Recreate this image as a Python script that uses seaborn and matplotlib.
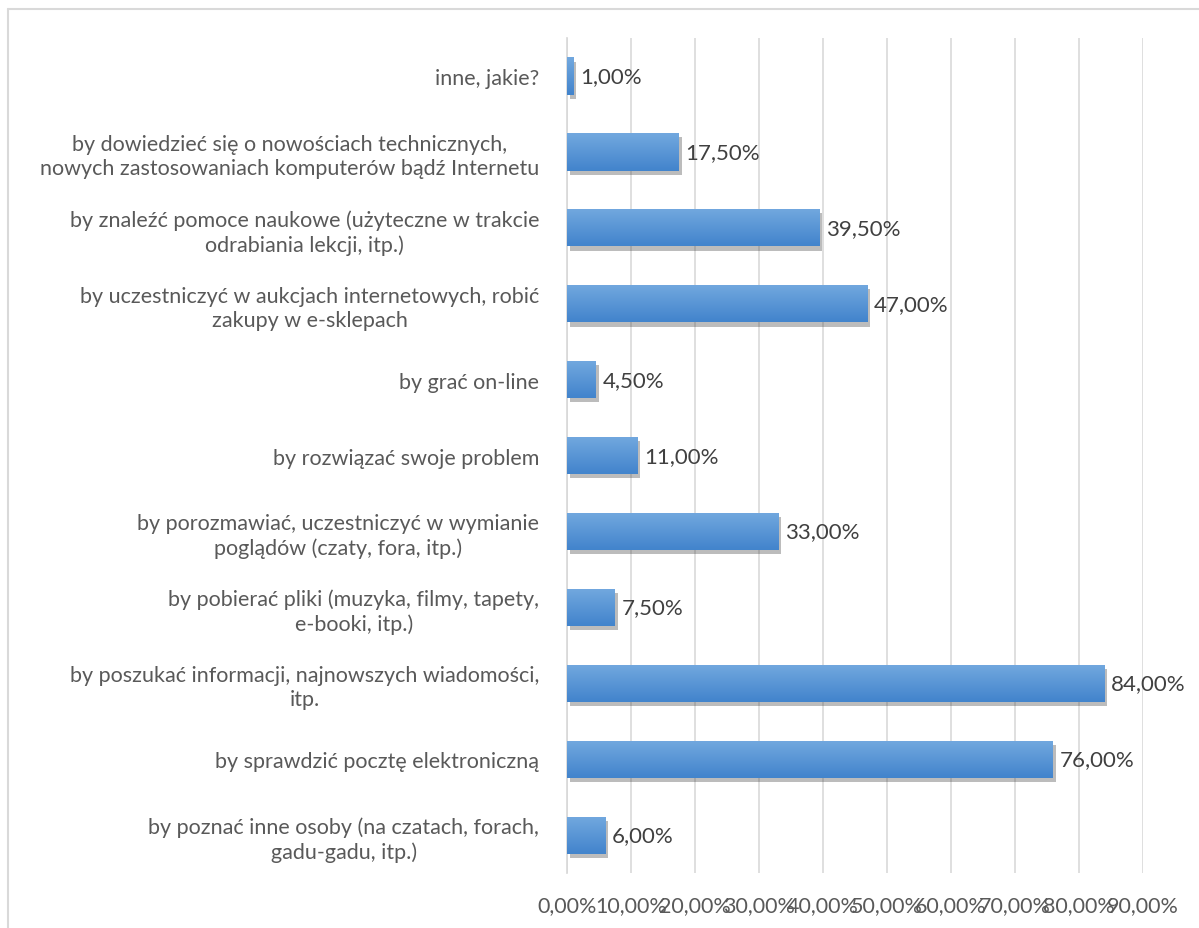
import numpy as np
import pandas as pd
import seaborn as sns
import matplotlib.pyplot as plt
import matplotlib.patheffects as pe
from matplotlib.colors import LinearSegmentedColormap
from matplotlib.ticker import FuncFormatter, MultipleLocator

# --- data ---
categories = [
    "inne, jakie?",
    "by dowiedzieć się o nowościach technicznych,\nnowych zastosowaniach komputerów bądź Internetu",
    "by znaleźć pomoce naukowe (użyteczne w trakcie\nodrabiania lekcji, itp.)",
    "by uczestniczyć w aukcjach internetowych, robić\nzakupy w e-sklepach",
    "by grać on-line",
    "by rozwiązać swoje problem",
    "by porozmawiać, uczestniczyć w wymianie\npoglądów (czaty, fora, itp.)",
    "by pobierać pliki (muzyka, filmy, tapety,\ne-booki, itp.)",
    "by poszukać informacji, najnowszych wiadomości,\nitp.",
    "by sprawdzić pocztę elektroniczną",
    "by poznać inne osoby (na czatach, forach,\ngadu-gadu, itp.)",
]
shares = [1.0, 17.5, 39.5, 47.0, 4.5, 11.0, 33.0, 7.5, 84.0, 76.0, 6.0]

df = pd.DataFrame({"cel": categories, "udzial": shares})

sns.set_theme(style="white")
plt.rcParams['font.family'] = ['Lato', 'DejaVu Sans']
text_col = "#595959"

fig = plt.figure(figsize=(11.99, 9.29), dpi=100)
ax = fig.add_axes([0.473, 0.059, 0.480, 0.899])

sns.barplot(data=df, x="udzial", y="cel", orient="h", color="#5b9bd5",
            width=0.49, ax=ax, zorder=2)

# gradient fill + soft shadow, Excel style
grad = LinearSegmentedColormap.from_list("g", ["#72a8df", "#4284cc"])
for p in ax.patches:
    p.set_edgecolor("none")
    p.set_path_effects([pe.SimplePatchShadow(offset=(2, -3), shadow_rgbFace="#404040", alpha=0.35),
                        pe.Normal()])
    x0, y0, w, h = p.get_x(), p.get_y(), p.get_width(), p.get_height()
    im = ax.imshow(np.linspace(0, 1, 50).reshape(-1, 1), cmap=grad, aspect="auto",
                   extent=(x0, x0 + w, y0 + h, y0), origin="upper", zorder=3,
                   interpolation="bilinear")
    im.set_clip_path(p)

ax.set_xlim(0, 90)
ax.set_ylim(len(categories) - 0.5, -0.5)
ax.xaxis.set_major_locator(MultipleLocator(10))
ax.xaxis.set_major_formatter(FuncFormatter(lambda v, _: f"{v:.2f}%".replace(".", ",")))
ax.grid(axis="x", color="#d9d9d9", linewidth=1.2, zorder=0)
ax.set_axisbelow(True)
for s in ["top", "right", "bottom"]:
    ax.spines[s].set_visible(False)
ax.spines["left"].set_color("#d9d9d9")
ax.tick_params(axis="x", labelsize=15.5, colors=text_col, pad=16, length=0)
ax.tick_params(axis="y", labelsize=15.5, colors=text_col, pad=20, length=0)
for t in ax.get_yticklabels():
    t.set_multialignment("center")
    t.set_linespacing(1.25)
ax.set_xlabel("")
ax.set_ylabel("")

for i, v in enumerate(shares):
    ax.text(v + 1.0, i, f"{v:.2f}%".replace(".", ","), va="center", ha="left",
            fontsize=16, color="#404040")

# outer chart border
fig.add_artist(plt.Line2D([8 / 1199, 8 / 1199], [0, 1 - 10 / 929], color="#d9d9d9", lw=1.5))
fig.add_artist(plt.Line2D([8 / 1199, 1], [1 - 10 / 929, 1 - 10 / 929], color="#d9d9d9", lw=1.5))

fig.savefig("out.png", dpi=100)
